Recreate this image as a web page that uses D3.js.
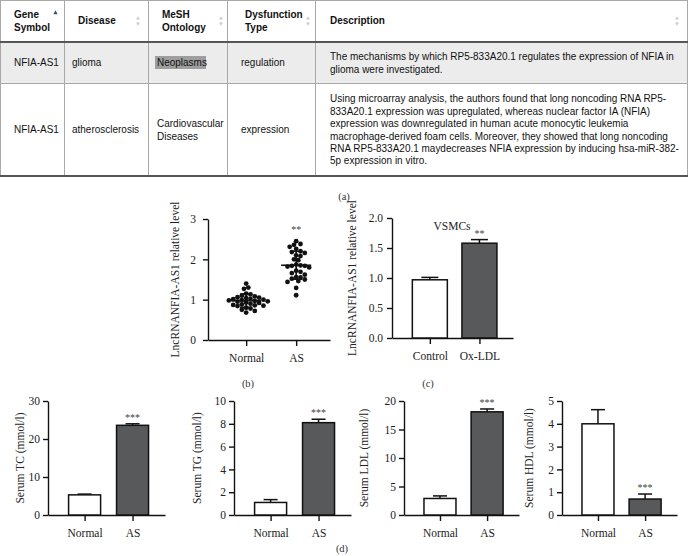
<!DOCTYPE html>
<html lang="en">
<head>
  <meta charset="UTF-8">
  <title></title>
  <style>body { margin: 0; background: #fff; }</style>
</head>
<body>
  <script src="https://d3js.org/d3.v7.min.js"></script>
  <script>
    const [width, height] = [689, 556];

    // (a) table
    const tableHeaders = [["Gene", "Symbol"], ["Disease"], ["MeSH", "Ontology"], ["Dysfunction", "Type"], ["Description"]];
    const tableRows = [
      [["NFIA-AS1"], ["glioma"], ["Neoplasms"], ["regulation"],
        ["The mechanisms by which RP5-833A20.1 regulates the expression of NFIA in",
         "glioma were investigated."]],
      [["NFIA-AS1"], ["atherosclerosis"], ["Cardiovascular", "Diseases"], ["expression"],
        ["Using microarray analysis, the authors found that long noncoding RNA RP5-",
         "833A20.1 expression was upregulated, whereas nuclear factor IA (NFIA)",
         "expression was downregulated in human acute monocytic leukemia",
         "macrophage-derived foam cells. Moreover, they showed that long noncoding",
         "RNA RP5-833A20.1 maydecreases NFIA expression by inducing hsa-miR-382-",
         "5p expression in vitro."]]
    ];

    // (b) scatter
    const scatterGroups = ["Normal", "AS"];
    const normalLevels = [1.4, 1.3, 1.27, 1.15, 1.13, 1.1, 1.08, 1.06, 1.05, 1.04, 1.02, 1.01, 1.0, 0.99, 0.98,
      0.97, 0.96, 0.95, 0.93, 0.92, 0.9, 0.88, 0.87, 0.86, 0.85, 0.84, 0.8, 0.78, 0.75, 0.72, 0.68];
    const asLevels = [2.45, 2.38, 2.36, 2.31, 2.26, 2.2, 2.18, 2.16, 2.1, 2.08, 2.0, 1.98, 1.87, 1.85, 1.84,
      1.84, 1.82, 1.8, 1.72, 1.69, 1.66, 1.62, 1.56, 1.55, 1.52, 1.5, 1.46, 1.44, 1.29, 1.11];

    // (c) VSMCs
    const vsmcGroups = ["Control", "Ox-LDL"];
    const vsmcMeans = [0.97, 1.58];
    const vsmcErrors = [0.04, 0.06];

    // (d) serum lipids
    const serumGroups = ["Normal", "AS"];
    const serumLabels = ["Serum TC (mmol/l)", "Serum TG (mmol/l)", "Serum LDL (mmol/l)", "Serum HDL (mmol/l)"];
    const serumTicks = [[0, 10, 20, 30], [0, 2, 4, 6, 8, 10], [0, 5, 10, 15, 20], [0, 1, 2, 3, 4, 5]];
    const serumMeans = [[5.3, 23.6], [1.1, 8.1], [2.9, 18.1], [4.0, 0.7]];
    const serumErrors = [[0.2, 0.4], [0.25, 0.3], [0.45, 0.5], [0.62, 0.22]];

    const serif = "'Liberation Serif', 'DejaVu Serif', serif";
    const sans = "'Liberation Sans', Arial, sans-serif";

    const svg = d3.select(document.body)
      .append("svg")
      .attr("width", width)
      .attr("height", height)
      .attr("viewBox", [0, 0, width, height]);

    // ---------- table ----------
    {
      const colX = [0, 64, 148, 227, 315, 687];
      const rowY = [0, 42, 83, 176];
      const headX = [14, 78, 162, 245, 330];
      const cellX = [14, 72, 157, 241, 330];
      const lineH = 12.4;
      const squeeze = 0.925; // reference text is a little condensed
      const t = svg.append("g").attr("font-family", sans).attr("font-size", 10.8).attr("fill", "#111");

      t.append("rect").attr("x", 0).attr("y", rowY[1]).attr("width", colX[5]).attr("height", rowY[2] - rowY[1]).attr("fill", "#ececec");
      // highlight on Neoplasms
      t.append("rect").attr("x", 155).attr("y", 56).attr("width", 51).attr("height", 13).attr("fill", "#9e9e9e");

      const grid = t.append("g").attr("stroke", "#a8a8a8").attr("stroke-width", 1);
      colX.forEach(x => grid.append("line").attr("x1", x + 0.5).attr("x2", x + 0.5).attr("y1", 0).attr("y2", rowY[3]));
      grid.append("line").attr("x1", 0).attr("x2", colX[5]).attr("y1", 0.5).attr("y2", 0.5);
      grid.append("line").attr("x1", 0).attr("x2", colX[5]).attr("y1", rowY[2] + 0.5).attr("y2", rowY[2] + 0.5);
      [rowY[1], rowY[3]].forEach(y => t.append("line").attr("x1", 0).attr("x2", colX[5] + 1)
        .attr("y1", y).attr("y2", y).attr("stroke", "#555").attr("stroke-width", 2));

      const writeLines = (lines, x, cy, bold) => {
        const top = cy - (lines.length - 1) * lineH / 2;
        lines.forEach((s, i) => t.append("text")
          .attr("transform", `translate(${x},${top + i * lineH + 3.9}) scale(${squeeze},1)`)
          .attr("font-weight", bold ? "bold" : null)
          .text(s));
      };

      tableHeaders.forEach((h, i) => writeLines(h, headX[i], 20.5, true));
      tableRows.forEach((row, r) => {
        const cy = (rowY[r + 1] + rowY[r + 2]) / 2;
        row.forEach((cell, i) => writeLines(cell, cellX[i], cy, false));
      });

      // sort icons
      const tri = d3.symbol(d3.symbolTriangle, 12);
      t.append("path").attr("d", tri()).attr("fill", "#3c4f7a").attr("transform", "translate(55.5,13) scale(0.8,0.9)");
      [138, 221, 308, 677].forEach(x => {
        t.append("path").attr("d", tri()).attr("fill", "#c8c8c8").attr("transform", `translate(${x},18.5) scale(0.7)`);
        t.append("path").attr("d", tri()).attr("fill", "#c8c8c8").attr("transform", `translate(${x},23.5) rotate(180) scale(0.7)`);
      });
    }

    // ---------- shared axis drawing ----------
    function panel(box, groups, domainMax, ticks, fmt, label, labelX, pad) {
      const x = d3.scalePoint().domain(groups).range([box.x0, box.x1]).padding(0.72).align(0.53);
      const y = d3.scaleLinear().domain([0, domainMax]).range([box.y0, box.y1]);
      const g = svg.append("g");
      g.append("g")
        .attr("transform", `translate(${box.x0},0)`)
        .call(d3.axisLeft(y).tickValues(ticks).tickFormat(fmt).tickSize(5).tickSizeOuter(0).tickPadding(pad))
        .call(a => a.selectAll("text").attr("font-family", serif).attr("font-size", 11.5).attr("fill", "#222"));
      g.append("g")
        .attr("transform", `translate(0,${box.y0})`)
        .call(d3.axisBottom(x).tickSize(6).tickSizeOuter(0).tickPadding(8))
        .call(a => a.selectAll("text").attr("font-family", serif).attr("font-size", 11.5).attr("fill", "#222"));
      g.selectAll(".domain, .tick line").attr("stroke", "#111").attr("stroke-width", 1.4);
      g.append("text")
        .attr("transform", `translate(${labelX},${(box.y0 + box.y1) / 2}) rotate(-90)`)
        .attr("text-anchor", "middle")
        .attr("font-family", serif)
        .attr("font-size", 11.5)
        .attr("fill", "#222")
        .text(label);
      return { g, x, y };
    }

    function bars(p, means, errors, barW, capW, stars) {
      const { g, x, y } = p;
      const groups = x.domain();
      groups.forEach((k, i) => {
        const cx = x(k);
        const top = y(means[i] + errors[i]);
        g.append("line").attr("x1", cx).attr("x2", cx).attr("y1", y(means[i])).attr("y2", top)
          .attr("stroke", "#111").attr("stroke-width", 1.5);
        g.append("line").attr("x1", cx - capW / 2).attr("x2", cx + capW / 2).attr("y1", top).attr("y2", top)
          .attr("stroke", "#111").attr("stroke-width", 1.5);
        g.append("rect")
          .attr("x", cx - barW / 2).attr("y", y(means[i]))
          .attr("width", barW).attr("height", y(0) - y(means[i]))
          .attr("fill", i === 0 ? "#fff" : "#58595b")
          .attr("stroke", "#111").attr("stroke-width", 1.5);
        if (stars[i]) {
          g.append("text").attr("x", cx).attr("y", top - 3).attr("text-anchor", "middle")
            .attr("font-family", serif).attr("font-size", 10).attr("fill", "#444").text(stars[i]);
        }
      });
    }

    // ---------- (b) scatter ----------
    {
      const p = panel({ x0: 208, x1: 330, y0: 340, y1: 219 }, scatterGroups, 3, [0, 1, 2, 3], d3.format("d"),
        "LncRNANFIA-AS1 relative level", 179, 7);
      const { g, x, y } = p;
      const r = 2.4;
      [normalLevels, asLevels].forEach((vals, i) => {
        const cx = x(scatterGroups[i]);
        // simple beeswarm
        const placed = [];
        vals.slice().sort(d3.descending).forEach(v => {
          const cy = y(v);
          for (let k = 0; k < 60; k++) {
            const dx = (k % 2 ? 1 : -1) * Math.ceil(k / 2) * r * 0.9;
            if (placed.every(q => (q.dx - dx) ** 2 + (q.cy - cy) ** 2 >= (2 * r * 0.85) ** 2)) {
              placed.push({ dx, cy });
              break;
            }
          }
        });
        g.append("g").selectAll("circle").data(placed).join("circle")
          .attr("cx", d => cx + d.dx).attr("cy", d => d.cy).attr("r", r).attr("fill", "#111");
        const m = d3.mean(vals), sd = d3.deviation(vals);
        const lines = [[cx - 15, cx + 15, y(m), y(m)], [cx, cx, y(m - sd), y(m + sd)],
          [cx - 6, cx + 6, y(m - sd), y(m - sd)], [cx - 6, cx + 6, y(m + sd), y(m + sd)]];
        lines.forEach(([a, b, c, d]) => g.append("line").attr("x1", a).attr("x2", b).attr("y1", c).attr("y2", d)
          .attr("stroke", "#111").attr("stroke-width", 1.6));
        if (i === 1) {
          g.append("text").attr("x", cx).attr("y", y(d3.max(vals)) - 8).attr("text-anchor", "middle")
            .attr("font-family", serif).attr("font-size", 10).attr("fill", "#444").text("**");
        }
      });
    }

    // ---------- (c) VSMCs ----------
    {
      const p = panel({ x0: 392, x1: 513, y0: 338, y1: 218 }, vsmcGroups, 2, [0, 0.5, 1, 1.5, 2], d3.format(".1f"),
        "LncRNANFIA-AS1 relative level", 356, 4);
      bars(p, vsmcMeans, vsmcErrors, 35, 17, [null, "**"]);
      p.g.append("text").attr("x", 452).attr("y", 230).attr("text-anchor", "middle")
        .attr("font-family", serif).attr("font-size", 11.5).attr("fill", "#222").text("VSMCs");
    }

    // ---------- (d) serum ----------
    {
      const boxes = [
        { x0: 48, x1: 165, y0: 515, y1: 401, lx: 24 },
        { x0: 234, x1: 351, y0: 515, y1: 401, lx: 201 },
        { x0: 404, x1: 519, y0: 515, y1: 401, lx: 368 },
        { x0: 562, x1: 677, y0: 515, y1: 401, lx: 533 }
      ];
      boxes.forEach((b, i) => {
        const ticks = serumTicks[i];
        const p = panel(b, serumGroups, ticks[ticks.length - 1], ticks, d3.format("d"), serumLabels[i], b.lx, 3);
        bars(p, serumMeans[i], serumErrors[i], 32, 14, [null, "***"]);
      });
    }

    // panel letters
    const letters = [["(a)", 344, 200], ["(b)", 248, 387], ["(c)", 428, 387], ["(d)", 342, 552]];
    svg.append("g").attr("font-family", serif).attr("font-size", 10.5).attr("fill", "#333")
      .attr("text-anchor", "middle")
      .selectAll("text").data(letters).join("text")
      .attr("x", d => d[1]).attr("y", d => d[2]).text(d => d[0]);
  </script>
</body>
</html>
